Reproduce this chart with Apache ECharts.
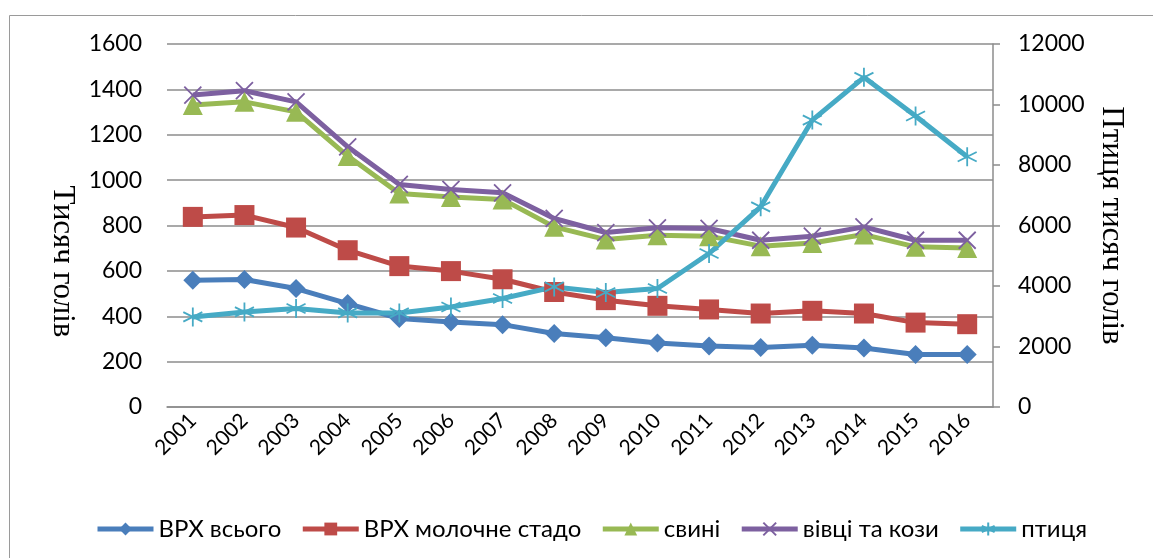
<!DOCTYPE html>
<html lang="uk">
<head>
    <meta charset="UTF-8">
    <title>Поголів'я худоби та птиці</title>
    <style>
        html, body { margin: 0; padding: 0; background: #fff; }
        #main { width: 1153px; height: 558px; }
    </style>
    <script src="https://cdn.jsdelivr.net/npm/echarts@6/dist/echarts.min.js"></script>
</head>
<body>
<div id="main"></div>
<script>
    // роки
    var years = ['2001', '2002', '2003', '2004', '2005', '2006', '2007', '2008',
                 '2009', '2010', '2011', '2012', '2013', '2014', '2015', '2016'];
    // тисяч голів (ліва вісь)
    var vrhAll   = [559, 562, 522, 456, 390, 375, 363, 324, 305, 282, 269, 262, 272, 260, 231, 231];
    var vrhMilk  = [838, 846, 791, 691, 621, 599, 563, 507, 471, 446, 430, 412, 424, 412, 372, 365];
    var pigs     = [1331, 1345, 1301, 1106, 941, 926, 915, 794, 738, 757, 753, 709, 723, 760, 706, 701];
    var sheep    = [1375, 1394, 1345, 1147, 981, 959, 944, 831, 769, 790, 787, 735, 753, 794, 735, 735];
    // птиця, тисяч голів (права вісь)
    var poultry  = [2978, 3143, 3254, 3110, 3110, 3308, 3585, 3970, 3785, 3917, 5075, 6617, 9485, 10898, 9618, 8271];

    var sans = 'Lato, "Liberation Sans", sans-serif';
    var serif = '"Liberation Serif", "DejaVu Serif", serif';

    var crossPath = 'path://M0,0L10,10M10,0L0,10';
    var starPath = 'path://M5,0L5,10M0.7,2.5L9.3,7.5M9.3,2.5L0.7,7.5';

    function plain(v) { return String(v); }

    function line(name, data, color, symbol, size, yIdx, strokeSym) {
        return {
            type: 'line',
            name: name,
            data: data,
            yAxisIndex: yIdx,
            symbol: symbol,
            symbolSize: size,
            lineStyle: { color: color, width: 5 },
            itemStyle: strokeSym
                ? { color: color, borderColor: color, borderWidth: 1.8 }
                : { color: color },
            emphasis: { disabled: true }
        };
    }

    var chart = echarts.init(document.getElementById('main'));
    chart.setOption({
        animation: false,
        graphic: [{
            type: 'rect',
            shape: { x: 9.5, y: 15.5, width: 1300, height: 700 },
            style: { fill: 'none', stroke: '#9a9a9a', lineWidth: 1 },
            silent: true
        }],
        grid: { left: 167, right: 160, top: 44, bottom: 151 },
        legend: {
            left: 90,
            top: 512,
            itemWidth: 56,
            itemHeight: 16,
            itemGap: 19,
            lineStyle: { width: 5 },
            textStyle: { fontFamily: sans, fontSize: 24, color: '#000' },
            data: ['ВРХ всього', 'ВРХ молочне стадо', 'свині', 'вівці та кози', 'птиця']
        },
        xAxis: {
            type: 'category',
            data: years,
            boundaryGap: true,
            axisLine: { lineStyle: { color: '#8c8c8c', width: 1.5 } },
            axisTick: { show: false },
            axisLabel: { rotate: 45, fontFamily: sans, fontSize: 21, color: '#000', margin: 10 }
        },
        yAxis: [{
            type: 'value',
            min: 0, max: 1600, interval: 200,
            name: 'Тисяч голів',
            nameLocation: 'middle',
            nameRotate: -90,
            nameGap: 66,
            nameTextStyle: { fontFamily: serif, fontSize: 31, color: '#000', padding: [0, 0, 0, 72] },
            axisLine: { show: false },
            axisTick: { show: false },
            splitLine: { lineStyle: { color: '#8c8c8c', width: 1.5 } },
            axisLabel: { fontFamily: sans, fontSize: 23, color: '#000', margin: 25, formatter: plain }
        }, {
            type: 'value',
            min: 0, max: 12000, interval: 2000,
            name: 'Птиця тисяч голів',
            nameLocation: 'middle',
            nameRotate: -90,
            nameGap: 102,
            nameTextStyle: { fontFamily: serif, fontSize: 31, color: '#000' },
            axisLine: { show: true, lineStyle: { color: '#8c8c8c', width: 1.5 } },
            axisTick: { show: true, length: 7, lineStyle: { color: '#8c8c8c', width: 1.5 } },
            splitLine: { show: false },
            axisLabel: { fontFamily: sans, fontSize: 23, color: '#000', margin: 25, formatter: plain }
        }],
        series: [
            line('ВРХ всього', vrhAll, '#4a7ebb', 'diamond', 19, 0, false),
            line('ВРХ молочне стадо', vrhMilk, '#be4b48', 'rect', 20, 0, false),
            line('свині', pigs, '#98b954', 'triangle', 20, 0, false),
            line('вівці та кози', sheep, '#7d60a0', crossPath, 17, 0, true),
            line('птиця', poultry, '#46aac5', starPath, 19, 1, true)
        ]
    });
</script>
</body>
</html>
